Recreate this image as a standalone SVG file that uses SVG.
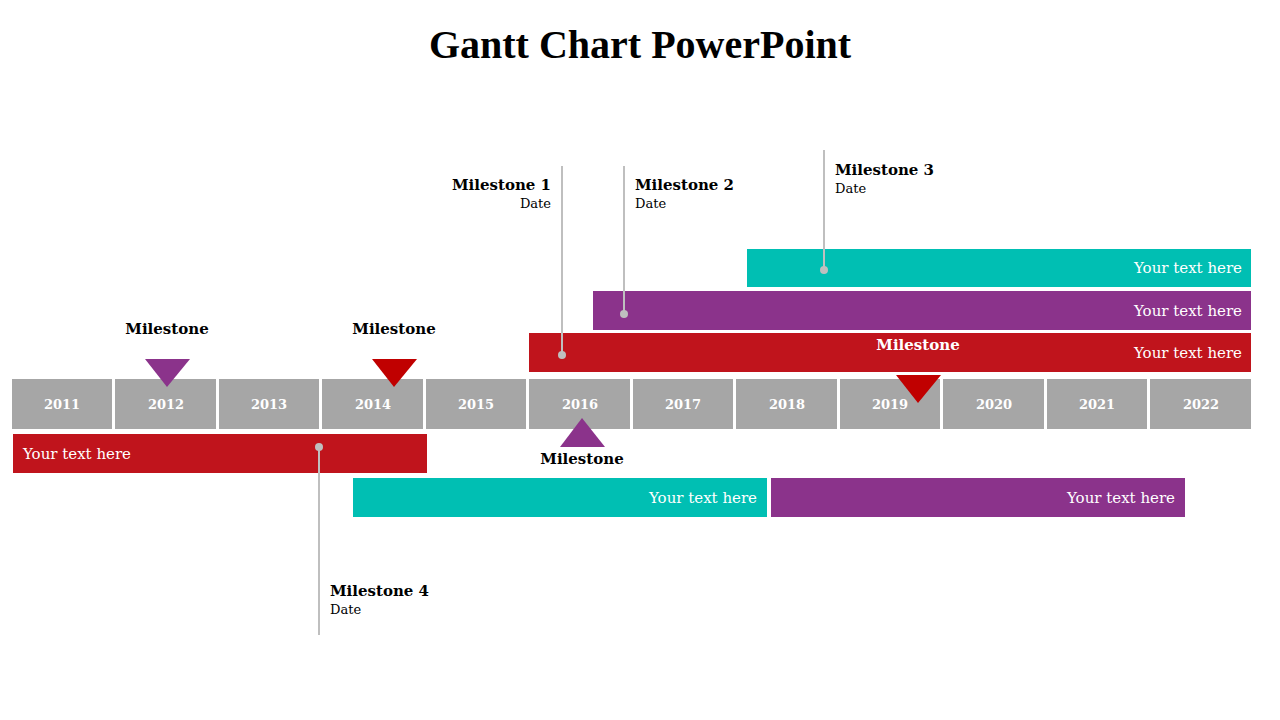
<svg xmlns="http://www.w3.org/2000/svg" width="1280" height="720" viewBox="0 0 1280 720">
<style>
text{font-family:"DejaVu Serif","Liberation Serif",serif}
.yr{fill:#a6a6a6}
.yt{fill:#fff;font-size:13px;font-weight:bold;text-anchor:middle}
.bt{fill:#fff;font-size:15px}
.ml{font-size:15px;font-weight:bold;fill:#000}
.dt{font-size:13px;fill:#000}
.ln{stroke:#bfbfbf;stroke-width:2}
.dot{fill:#bfbfbf}
</style>
<rect width="1280" height="720" fill="#fff"/>
<text x="640" y="58" text-anchor="middle" style="font-family:'Liberation Serif',serif;font-size:40px;font-weight:bold">Gantt Chart PowerPoint</text>
<g id="years">
<rect class="yr" x="12" y="379" width="100" height="50"/><text class="yt" x="62" y="409">2011</text>
<rect class="yr" x="115" y="379" width="101" height="50"/><text class="yt" x="166" y="409">2012</text>
<rect class="yr" x="219" y="379" width="100" height="50"/><text class="yt" x="269" y="409">2013</text>
<rect class="yr" x="322" y="379" width="101" height="50"/><text class="yt" x="373" y="409">2014</text>
<rect class="yr" x="426" y="379" width="100" height="50"/><text class="yt" x="476" y="409">2015</text>
<rect class="yr" x="529" y="379" width="101" height="50"/><text class="yt" x="580" y="409">2016</text>
<rect class="yr" x="633" y="379" width="100" height="50"/><text class="yt" x="683" y="409">2017</text>
<rect class="yr" x="736" y="379" width="101" height="50"/><text class="yt" x="787" y="409">2018</text>
<rect class="yr" x="840" y="379" width="100" height="50"/><text class="yt" x="890" y="409">2019</text>
<rect class="yr" x="943" y="379" width="101" height="50"/><text class="yt" x="994" y="409">2020</text>
<rect class="yr" x="1047" y="379" width="100" height="50"/><text class="yt" x="1097" y="409">2021</text>
<rect class="yr" x="1150" y="379" width="101" height="50"/><text class="yt" x="1201" y="409">2022</text>
</g>
<g id="bars">
<rect x="747" y="249" width="504" height="38" fill="#00bfb3"/><text class="bt" x="1242" y="273" text-anchor="end">Your text here</text>
<rect x="593" y="291" width="658" height="39" fill="#8b338b"/><text class="bt" x="1242" y="316" text-anchor="end">Your text here</text>
<rect x="529" y="333" width="722" height="39" fill="#c0141c"/><text class="bt" x="1242" y="358" text-anchor="end">Your text here</text>
<rect x="13" y="434" width="414" height="39" fill="#c0141c"/><text class="bt" x="23" y="459">Your text here</text>
<rect x="353" y="478" width="414" height="39" fill="#00bfb3"/><text class="bt" x="757" y="503" text-anchor="end">Your text here</text>
<rect x="771" y="478" width="414" height="39" fill="#8b338b"/><text class="bt" x="1175" y="503" text-anchor="end">Your text here</text>
</g>
<g id="triangles">
<polygon points="145,359 190,359 167,387" fill="#8b338b"/><text class="ml" x="167" y="334" text-anchor="middle">Milestone</text>
<polygon points="372,359 417,359 394,387" fill="#c00000"/><text class="ml" x="394" y="334" text-anchor="middle">Milestone</text>
<polygon points="896,375 941,375 918,403" fill="#c00000"/><text class="ml" x="918" y="350" text-anchor="middle" fill="#fff" style="fill:#fff">Milestone</text>
<polygon points="560,447 605,447 582,418" fill="#8b338b"/><text class="ml" x="582" y="464" text-anchor="middle">Milestone</text>
</g>
<g id="connectors">
<line class="ln" x1="562" y1="166" x2="562" y2="355"/><circle class="dot" cx="562" cy="355" r="4"/>
<line class="ln" x1="624" y1="166" x2="624" y2="314"/><circle class="dot" cx="624" cy="314" r="4"/>
<line class="ln" x1="824" y1="150" x2="824" y2="270"/><circle class="dot" cx="824" cy="270" r="4"/>
<line class="ln" x1="319" y1="447" x2="319" y2="635"/><circle class="dot" cx="319" cy="447" r="4"/>
</g>
<g id="labels">
<text class="ml" x="551" y="190" text-anchor="end">Milestone 1</text><text class="dt" x="551" y="208" text-anchor="end">Date</text>
<text class="ml" x="635" y="190">Milestone 2</text><text class="dt" x="635" y="208">Date</text>
<text class="ml" x="835" y="175">Milestone 3</text><text class="dt" x="835" y="193">Date</text>
<text class="ml" x="330" y="596">Milestone 4</text><text class="dt" x="330" y="614">Date</text>
</g>
</svg>
